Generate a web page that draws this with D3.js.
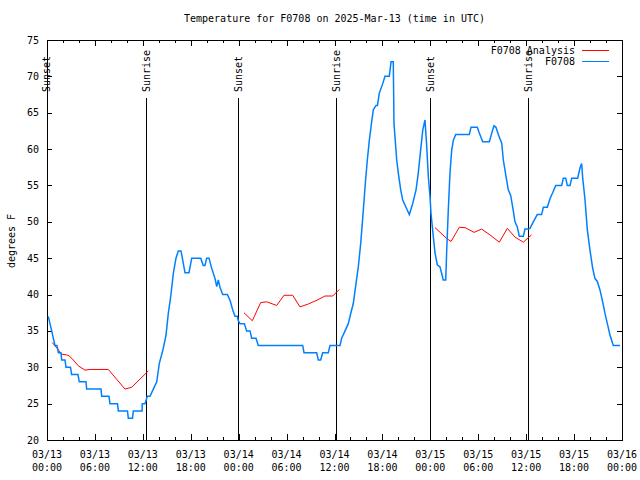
<!DOCTYPE html>
<html><head><meta charset="utf-8">
<script src="https://cdn.jsdelivr.net/npm/d3@7"></script>
<style>
html,body{margin:0;padding:0;background:#fff;}
svg{display:block;}
text{font-family:"DejaVu Sans Mono",monospace;font-size:10px;fill:#000;}
</style></head>
<body>
<svg id="chart" width="640" height="480"></svg>
<script>
// ---- data (hours after 2025-03-13 00:00 UTC, degrees F) ----
const title = "Temperature for F0708 on 2025-Mar-13 (time in UTC)";
const yLabel = "degrees F";
const seriesNames = ["F0708 Analysis", "F0708"];
const yTicks = [20,25,30,35,40,45,50,55,60,65,70,75];
const xMajorHours = [0,6,12,18,24,30,36,42,48,54,60,66,72];
const sunEvents = [
  [-0.07,"Sunset"],[12.36,"Sunrise"],[23.95,"Sunset"],
  [36.23,"Sunrise"],[48.0,"Sunset"],[60.27,"Sunrise"]
];
const observed = [
  [0.16,37],[0.59,35],[0.79,34],[1.0,33],[1.25,33],[1.42,32],[1.75,32],[1.84,31],[2.25,31],
  [2.38,30],[2.94,30],[3.09,29],[3.88,29],[4.04,28],[4.88,28],[4.97,27],[6.76,27],[6.85,26],
  [7.76,26],[7.89,25],[8.83,25],[8.93,24],[10.08,24],[10.18,23],[10.71,23],[10.81,24],[11.9,24],
  [11.93,25],[12.27,25],[12.56,26],[12.9,26],[13.31,27],[13.74,28],[14.06,30.5],[14.56,32.6],
  [14.9,34.4],[15.19,37.4],[15.49,39.7],[15.82,42.9],[16.15,45],[16.44,46],[16.78,46],[17.07,44.3],
  [17.28,43],[17.78,43],[18.12,45],[19.25,45],[19.57,44],[19.78,44],[19.99,45],[20.29,45],
  [20.62,43.6],[21.04,42.2],[21.25,41.1],[21.45,42],[21.66,41],[22.0,40],[22.58,40],[22.92,39.2],
  [23.25,37.9],[23.54,37],[23.83,37],[23.95,36.4],[24.17,36],[24.71,36],[25.0,35],[25.42,35],
  [25.63,34],[26.17,34],[26.46,33],[32.02,33],[32.18,32],[33.77,32],[33.97,31],[34.27,31],
  [34.52,32],[35.22,32],[35.44,33],[36.69,33],[36.9,34],[37.32,35],[37.73,36],[38.03,37.4],
  [38.36,38.8],[38.69,41.5],[38.98,43.8],[39.28,47],[39.61,51.6],[39.86,55.3],[40.11,58.5],
  [40.36,61.2],[40.66,63.8],[40.86,65.4],[41.2,66],[41.38,66],[41.61,67.7],[42.04,69],[42.32,70],
  [42.86,70],[43.08,72],[43.36,72],[43.45,63.5],[43.79,58.5],[43.99,56.7],[44.29,54.4],[44.54,53],
  [44.95,52],[45.37,51],[45.79,52.5],[46.21,54.4],[46.49,56.7],[46.79,59.9],[47.05,62.6],[47.33,64],
  [47.55,60.3],[47.75,56.2],[47.96,53.5],[48.08,51.2],[48.37,48],[48.59,45.7],[48.87,44.1],
  [49.21,43.8],[49.42,42.9],[49.62,42],[49.93,42],[50.05,46.1],[50.25,51.6],[50.46,56.7],
  [50.68,59.9],[50.88,61.2],[51.18,62],[52.88,62],[53.09,63],[53.88,63],[54.13,62.2],[54.56,61],
  [55.39,61],[55.69,62.2],[55.97,63.2],[56.22,63],[56.51,62],[56.94,60.8],[57.14,58.5],[57.48,56.2],
  [57.76,54.4],[58.07,53.6],[58.39,51.5],[58.6,50],[58.89,49.3],[59.14,48],[59.64,48],[59.85,49],
  [60.26,49],[60.48,49.1],[60.89,50],[61.39,51],[61.94,51],[62.15,52],[62.65,52],[62.99,53.2],
  [63.32,54],[63.7,55],[64.45,55],[64.65,56],[64.95,56],[65.15,55],[65.49,55],[65.7,56],[66.45,56],
  [66.74,57.4],[66.95,58],[67.08,56],[67.37,53],[67.66,48.9],[67.99,46.1],[68.33,43.6],[68.62,42.2],
  [68.91,41.8],[69.25,40.6],[69.58,39],[69.87,37.4],[70.21,35.8],[70.5,34.4],[70.91,33],[71.75,33]
];
const analysisRun1 = [
  [0.66,33.4],[1.42,32.4],[1.84,31.8],[2.47,31.7],[2.79,31.55],[3.29,31],[3.92,30.2],[4.76,29.6],
  [5.38,29.7],[7.68,29.7],[9.77,27],[10.61,27.25],[12.69,29.5]
];
const analysisRun2 = [
  [24.67,37.5],[25.71,36.4],[26.76,38.9],[27.51,39.0],[28.76,38.5],[29.68,39.9],[30.77,39.9],
  [31.68,38.3],[32.72,38.7],[33.85,39.25],[34.81,39.8],[35.78,39.8],[36.6,40.7]
];
const analysisRun3 = [
  [48.59,49.2],[50.05,47.7],[50.59,47.3],[51.63,49.25],[52.35,49.2],[53.47,48.55],[54.43,49],
  [55.47,48.2],[56.64,47.2],[57.64,49.1],[58.6,47.9],[59.64,47.2],[60.67,48.2]
];
const colors = {analysis:"#ff0000", observed:"#0080ff"};

// ---- drawing ----
const svg = d3.select("#chart");
const W = 640, H = 480;
const m = {left:47, right:622, top:40, bottom:440};
const t0 = Date.UTC(2025,2,13);
const hToDate = h => new Date(t0 + h*3600e3);
const x = d3.scaleUtc().domain([hToDate(0), hToDate(72)]).range([m.left, m.right]);
const y = d3.scaleLinear().domain([20,75]).range([m.bottom, m.top]);

svg.append("rect").attr("width",W).attr("height",H).attr("fill","#fff");

const minorHours = d3.range(0,73,2).map(hToDate);
const majorDates = xMajorHours.map(hToDate);

function styleAxis(g){
  g.select(".domain").remove();
  g.selectAll("line").attr("stroke","#000").attr("shape-rendering","crispEdges");
}
// x axes (ticks inward), bottom and top mirror
svg.append("g").attr("transform",`translate(0,${m.bottom})`)
  .call(d3.axisBottom(x).tickValues(minorHours).tickSize(-3).tickFormat("")).call(styleAxis);
svg.append("g").attr("transform",`translate(0,${m.bottom})`)
  .call(d3.axisBottom(x).tickValues(majorDates).tickSize(-6).tickFormat("")).call(styleAxis);
svg.append("g").attr("transform",`translate(0,${m.top})`)
  .call(d3.axisTop(x).tickValues(minorHours).tickSize(-3).tickFormat("")).call(styleAxis);
svg.append("g").attr("transform",`translate(0,${m.top})`)
  .call(d3.axisTop(x).tickValues(majorDates).tickSize(-6).tickFormat("")).call(styleAxis);
// y axes
svg.append("g").attr("transform",`translate(${m.left},0)`)
  .call(d3.axisLeft(y).tickValues(yTicks).tickSize(-5).tickFormat("")).call(styleAxis);
svg.append("g").attr("transform",`translate(${m.right},0)`)
  .call(d3.axisRight(y).tickValues(yTicks).tickSize(-5).tickFormat("")).call(styleAxis);

// y tick labels
svg.append("g").selectAll("text").data(yTicks).join("text")
  .attr("x", m.left-8).attr("y", d=>y(d)).attr("dy","0.35em")
  .attr("text-anchor","end").text(d=>d);
// x tick labels (two lines)
const fDay = d3.utcFormat("%m/%d"), fTime = d3.utcFormat("%H:%M");
const xl = svg.append("g").selectAll("g").data(majorDates).join("g");
xl.append("text").attr("x",d=>x(d)).attr("y",457.5).attr("text-anchor","middle").text(fDay);
xl.append("text").attr("x",d=>x(d)).attr("y",471).attr("text-anchor","middle").text(fTime);

// frame
svg.append("rect").attr("x",m.left+0.5).attr("y",m.top+0.5)
  .attr("width",m.right-m.left).attr("height",m.bottom-m.top)
  .attr("fill","none").attr("stroke","#000").attr("shape-rendering","crispEdges");

// title, y label
svg.append("text").attr("x",(m.left+m.right)/2).attr("y",22).attr("text-anchor","middle").text(title);
svg.append("text").attr("transform","translate(11,241) rotate(-90)")
  .attr("text-anchor","middle").attr("dy","0.35em").text(yLabel);

// sunrise / sunset markers
const sun = svg.append("g");
sunEvents.forEach(([h,label])=>{
  const xx = Math.round(x(hToDate(h)))+0.5;
  if (h >= 0) sun.append("line").attr("x1",xx).attr("x2",xx).attr("y1",98).attr("y2",m.bottom)
    .attr("stroke","#000").attr("stroke-width",1.2).attr("shape-rendering","crispEdges");
  sun.append("text").attr("transform",`translate(${xx},92) rotate(-90)`)
    .attr("dy","0.35em").attr("text-anchor","start").text(label);
});

// lines
const line = d3.line().x(d=>x(hToDate(d[0]))).y(d=>y(d[1]));
[analysisRun1, analysisRun2, analysisRun3].forEach(run=>{
  svg.append("path").datum(run).attr("d",line).attr("fill","none")
    .attr("stroke",colors.analysis).attr("stroke-width",1);
});
svg.append("path").datum(observed).attr("d",line).attr("fill","none")
  .attr("stroke",colors.observed).attr("stroke-width",1.5).attr("stroke-linejoin","miter");

// legend
const leg = [[seriesNames[0],colors.analysis,50],[seriesNames[1],colors.observed,61]];
leg.forEach(([name,c,yy])=>{
  svg.append("text").attr("x",575).attr("y",yy).attr("dy","0.35em").attr("text-anchor","end").text(name);
  svg.append("line").attr("x1",582).attr("x2",609).attr("y1",yy+0.5).attr("y2",yy+0.5)
    .attr("stroke",c).attr("stroke-width",1).attr("shape-rendering","crispEdges");
});
</script>
</body></html>
